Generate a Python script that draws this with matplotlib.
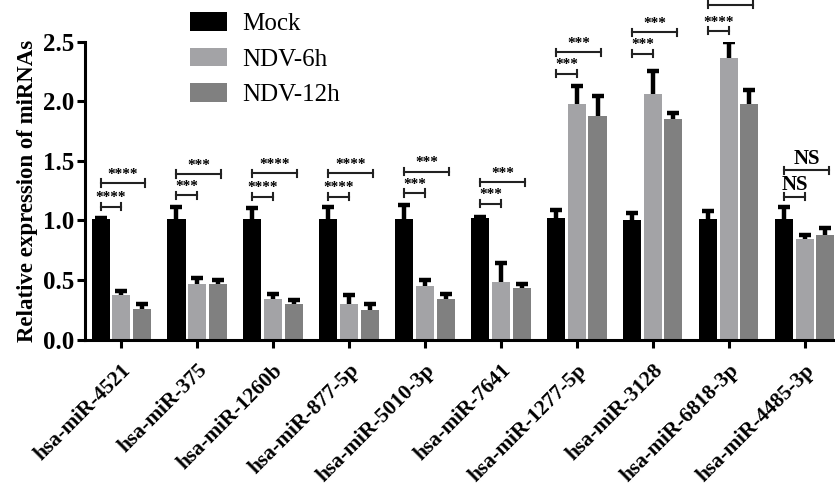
import numpy as np
import matplotlib
matplotlib.use("Agg")
import matplotlib.pyplot as plt

plt.rcParams['font.family'] = ['Liberation Serif', 'DejaVu Serif']

mirnas = ['hsa-miR-4521', 'hsa-miR-375', 'hsa-miR-1260b', 'hsa-miR-877-5p',
          'hsa-miR-5010-3p', 'hsa-miR-7641', 'hsa-miR-1277-5p', 'hsa-miR-3128',
          'hsa-miR-6818-3p', 'hsa-miR-4485-3p']
groups = ['Mock', 'NDV-6h', 'NDV-12h']

mock = [1.01, 1.01, 1.01, 1.01, 1.01, 1.02, 1.02, 1.00, 1.01, 1.01]
mock_err = [0.01, 0.10, 0.09, 0.10, 0.12, 0.01, 0.07, 0.06, 0.07, 0.10]
ndv6 = [0.37, 0.47, 0.34, 0.30, 0.45, 0.48, 1.98, 2.06, 2.36, 0.84]
ndv6_err = [0.04, 0.05, 0.04, 0.07, 0.05, 0.16, 0.15, 0.19, 0.14, 0.035]
ndv12 = [0.26, 0.47, 0.30, 0.25, 0.34, 0.435, 1.88, 1.85, 1.98, 0.88]
ndv12_err = [0.04, 0.03, 0.03, 0.05, 0.04, 0.03, 0.16, 0.05, 0.115, 0.055]

# significance: mock vs 6h (low bracket), mock vs 12h (high bracket)
sig_low = ['****', '***', '****', '****', '***', '***', '***', '***', '****', 'NS']
sig_low_y = [1.115, 1.21, 1.20, 1.20, 1.23, 1.14, 2.23, 2.40, 2.59, 1.20]
sig_high = ['****', '***', '****', '****', '***', '***', '***', '***', '****', 'NS']
sig_high_y = [1.314, 1.39, 1.395, 1.395, 1.41, 1.32, 2.41, 2.58, 2.81, 1.42]

colors = ['#000000', '#a3a3a6', '#808080']

fig = plt.figure(figsize=(8.35, 4.90), dpi=100)
ax = fig.add_axes([0.1018, 0.307, 0.905, 0.608])

x = np.arange(len(mirnas))
step = 0.27
width = 0.237
series = [(mock, mock_err), (ndv6, ndv6_err), (ndv12, ndv12_err)]
for i, (vals, errs) in enumerate(series):
    pos = x + (i - 1) * step
    vals = np.array(vals)
    tops = vals + np.array(errs)
    ax.bar(pos, vals, width, color=colors[i], label=groups[i], zorder=2)
    # upper-only error bars with a cap on top
    ax.vlines(pos, vals, tops, color='black', lw=3.2, zorder=3)
    ax.plot(pos, tops, ls='none', marker='_', ms=8, mew=3.2, color='black', zorder=3)

def bracket(x0, x1, y, label):
    h = 0.03
    ax.plot([x0, x1], [y, y], color='#222222', lw=1.5, clip_on=False, zorder=4)
    for xx in (x0, x1):
        ax.plot([xx, xx], [y - h, y + h], color='#222222', lw=1.5, clip_on=False, zorder=4)
    if label == 'NS':
        ax.text((x0 + x1) / 2, y + 0.015, label, ha='center', va='bottom',
                fontsize=15, fontweight='bold', clip_on=False)
    else:
        ax.text((x0 + x1) / 2, y + 0.02, label, ha='center', va='bottom',
                fontsize=11, fontweight='bold', clip_on=False)

for k in range(len(mirnas)):
    bracket(x[k] - step, x[k], sig_low_y[k], sig_low[k])
    bracket(x[k] - step, x[k] + step + 0.05, sig_high_y[k], sig_high[k])

ax.set_xlim(-0.474, 9.47)
ax.set_ylim(0, 2.5)
ax.set_yticks([0, 0.5, 1.0, 1.5, 2.0, 2.5])
ax.set_yticklabels(['0.0', '0.5', '1.0', '1.5', '2.0', '2.5'], fontsize=18, fontweight='bold')
ax.set_xticks(x)
ax.set_xticklabels(mirnas, rotation=45, ha='right', rotation_mode='anchor',
                   fontsize=15.5, fontweight='bold')
ax.set_ylabel('Relative expression of miRNAs', fontsize=16.5, fontweight='bold', labelpad=3)

for s in ['top', 'right']:
    ax.spines[s].set_visible(False)
for s in ['left', 'bottom']:
    ax.spines[s].set_linewidth(2.2)
ax.tick_params(axis='both', width=2.2, length=6, direction='out')
ax.tick_params(axis='x', pad=9)
ax.tick_params(axis='y', pad=2)

leg = ax.legend(loc='upper left', bbox_to_anchor=(0.215, 0.995), bbox_transform=fig.transFigure,
                frameon=False, fontsize=18, handlelength=1.5, handleheight=0.75,
                labelspacing=0.5, handletextpad=0.6, borderaxespad=0)

fig.savefig('out.png', dpi=100)
